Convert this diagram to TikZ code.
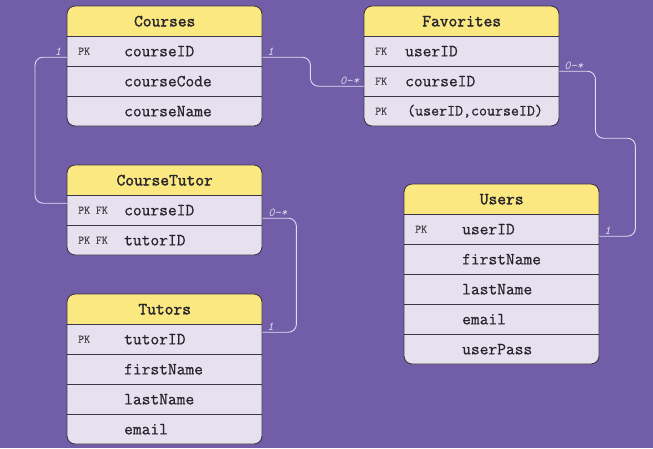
\documentclass[tikz,border=0pt]{standalone}
\usepackage{fontspec}
\usepackage{tikz}
\usetikzlibrary{positioning}
\newfontfamily\tabfont{Latin Modern Mono}[FakeBold=0.7]
\newfontfamily\headfont{Latin Modern Mono}[FakeBold=1.8]
\newfontfamily\cardfont{Latin Modern Mono}
\definecolor{bgcol}{RGB}{114,94,168}
\definecolor{headcol}{RGB}{251,232,128}
\definecolor{bodycol}{RGB}{230,224,239}
\definecolor{edgecol}{RGB}{58,54,68}
\definecolor{linkcol}{RGB}{226,220,242}
\definecolor{txtcol}{RGB}{38,36,44}
\newcommand{\tabw}{195}
\newcommand{\rowh}{30}
\newcommand{\corner}{8pt}
\newcommand{\outers}{0.9pt}
\newcommand{\entitybox}[3]{%
    \fill[bodycol, rounded corners=\corner] (#1,#2) rectangle ++(\tabw,{\rowh*(#3+1)});
    \begin{scope}
        \clip[rounded corners=\corner] (#1,#2) rectangle ++(\tabw,{\rowh*(#3+1)});
        \fill[headcol] (#1,#2) rectangle ++(\tabw,\rowh);
    \end{scope}
    \foreach \r in {1,...,#3} \draw[edgecol, line width=\outers] (#1,{#2+\rowh*\r}) -- ++(\tabw,0);
    \draw[edgecol, line width=\outers, rounded corners=\corner] (#1,#2) rectangle ++(\tabw,{\rowh*(#3+1)});
}

\begin{document}
\begin{tikzpicture}[x=1pt, y=-1pt,
            head/.style={anchor=north west, minimum width=195pt, minimum height=30pt, inner sep=0pt,
                font=\headfont\fontsize{17}{18}\selectfont, text=txtcol},
            row/.style={anchor=north west, minimum width=195pt, minimum height=30pt, inner sep=0pt},
            key/.style={anchor=west, inner sep=0pt, font=\tabfont\fontsize{11.5}{12}\selectfont, text=txtcol!85},
            field/.style={anchor=west, inner sep=0pt, font=\tabfont\fontsize{17}{18}\selectfont, text=txtcol},
            link/.style={draw=linkcol, line width=0.9pt, rounded corners=8pt},
            card/.style={inner sep=1.5pt, font=\cardfont\itshape\fontsize{12}{12}\selectfont, text=linkcol}]
            \fill[bgcol] (0,0) rectangle (653,448);
            \useasboundingbox (0,0) rectangle (653,448);

            \entitybox{67}{6}{3}
            \node[head] (courses) at (67,6) {Courses};
            \node[row] (crs1) at (67,36) {};
            \node[row] (crs2) at (67,66) {};
            \node[row] (crs3) at (67,96) {};
            \node[key] (crs1k) at ([xshift=11]crs1.west) {PK};
            \node[field] (crs1f) at ([xshift=57]crs1.west) {courseID};
            \node[field] (crs2f) at ([xshift=57]crs2.west) {courseCode};
            \node[field] (crs3f) at ([xshift=57]crs3.west) {courseName};

            \entitybox{364}{6}{3}
            \node[head] (favorites) at (364,6) {Favorites};
            \node[row] (fav1) at (364,36) {};
            \node[row] (fav2) at (364,66) {};
            \node[row] (fav3) at (364,96) {};
            \node[key] (fav1k) at ([xshift=11]fav1.west) {FK};
            \node[key] (fav2k) at ([xshift=11]fav2.west) {FK};
            \node[key] (fav3k) at ([xshift=11]fav3.west) {PK};
            \node[field] (fav1f) at ([xshift=41]fav1.west) {userID};
            \node[field] (fav2f) at ([xshift=41]fav2.west) {courseID};
            \node[field, font=\tabfont\fontsize{15.5}{16}\selectfont] (fav3f) at ([xshift=43]fav3.west) {(userID,courseID)};

            \entitybox{67}{165}{2}
            \node[head] (coursetutor) at (67,165) {CourseTutor};
            \node[row] (ct1) at (67,195) {};
            \node[row] (ct2) at (67,225) {};
            \node[key] (ct1k) at ([xshift=11]ct1.west) {PK FK};
            \node[key] (ct2k) at ([xshift=11]ct2.west) {PK FK};
            \node[field] (ct1f) at ([xshift=57]ct1.west) {courseID};
            \node[field] (ct2f) at ([xshift=57]ct2.west) {tutorID};

            \entitybox{67}{294}{4}
            \node[head] (tutors) at (67,294) {Tutors};
            \node[row] (tut1) at (67,324) {};
            \node[row] (tut2) at (67,354) {};
            \node[row] (tut3) at (67,384) {};
            \node[row] (tut4) at (67,414) {};
            \node[key] (tut1k) at ([xshift=11]tut1.west) {PK};
            \node[field] (tut1f) at ([xshift=57]tut1.west) {tutorID};
            \node[field] (tut2f) at ([xshift=57]tut2.west) {firstName};
            \node[field] (tut3f) at ([xshift=57]tut3.west) {lastName};
            \node[field] (tut4f) at ([xshift=57]tut4.west) {email};

            \entitybox{404}{184}{5}
            \node[head] (users) at (404,184) {Users};
            \node[row] (usr1) at (404,214) {};
            \node[row] (usr2) at (404,244) {};
            \node[row] (usr3) at (404,274) {};
            \node[row] (usr4) at (404,304) {};
            \node[row] (usr5) at (404,334) {};
            \node[key] (usr1k) at ([xshift=11]usr1.west) {PK};
            \node[field] (usr1f) at ([xshift=58]usr1.west) {userID};
            \node[field] (usr2f) at ([xshift=58]usr2.west) {firstName};
            \node[field] (usr3f) at ([xshift=58]usr3.west) {lastName};
            \node[field] (usr4f) at ([xshift=58]usr4.west) {email};
            \node[field] (usr5f) at ([xshift=58]usr5.west) {userPass};

            \draw[link] ([yshift=-6]crs1.west) node[card, anchor=south east, xshift=-4] (c1) {1}
                -- ++(-32,0) |- ([yshift=7]ct1.west);
            \draw[link] ([yshift=-6]crs1.east) node[card, anchor=south west, xshift=3] (c2) {1}
                -- ++(48,0) |- ([yshift=-5]fav2.west) node[card, anchor=south east, xshift=-3] (c3) {0-*};
            \draw[link] ([yshift=10]fav2.east) node[card, anchor=south west, xshift=3] (c4) {0-*}
                -- ++(36,0) -- ++(0,67) -- ++(40,0) |- ([yshift=-7]usr1.east) node[card, anchor=south west, xshift=3] (c5) {1};
            \draw[link] ([yshift=-8]ct1.east) node[card, anchor=south west, xshift=4] (c6) {0-*}
                -- ++(34,0) |- ([yshift=7]tut1.east) node[card, anchor=south west, xshift=3] (c7) {1};
        \end{tikzpicture}
\end{document}
